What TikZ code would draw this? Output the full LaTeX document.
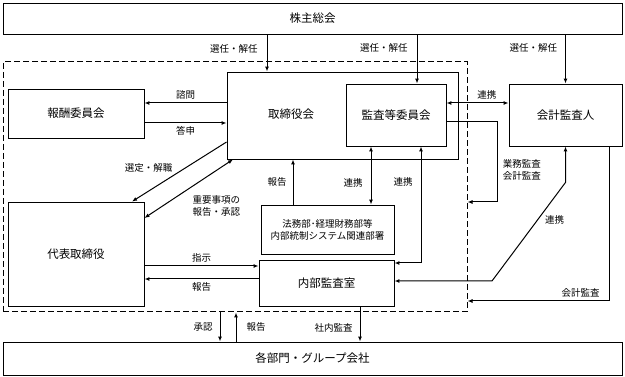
\documentclass[tikz,border=0pt]{standalone}
\usepackage{fontspec}
\setmainfont{Noto Sans CJK JP}
\usetikzlibrary{arrows.meta,calc,positioning}

\begin{document}
\begin{tikzpicture}[x=1pt,y=-1pt,
  >={Latex[length=5pt,width=4pt]},
  box/.style={draw,line width=0.9pt,inner sep=0pt,font=\fontsize{11.5}{13}\selectfont},
  lbl/.style={font=\fontsize{9.5}{12}\selectfont,inner sep=1pt},
  conn/.style={line width=1pt}]
\useasboundingbox (0,0) rectangle (625,377);
% frame of the board
\node[draw,dashed,dash pattern=on 6pt off 3pt,line width=1pt,minimum width=464pt,minimum height=250pt] (group) at (235,187) {};
% boxes
\node[box,minimum width=619pt,minimum height=31pt] (soukai) at (312.5,18.5) {株主総会};
\node[box,minimum width=231pt,minimum height=87pt] (bod) at (342.5,115.5) {};
\node[box,minimum width=100pt,minimum height=62pt] (kansa) at (396,115) {監査等委員会};
\node[font=\fontsize{11.5}{13}\selectfont] (bodname) at (291,114) {取締役会};
\node[box,minimum width=113pt,minimum height=62pt] (kaikei) at (565.5,115) {会計監査人};
\node[box,minimum width=136pt,minimum height=49pt] (housyu) at (76,113.5) {報酬委員会};
\node[box,minimum width=136pt,minimum height=104pt] (daihyo) at (76,254) {代表取締役};
\node[box,minimum width=133pt,minimum height=49pt,align=center,font=\fontsize{9.5}{12}\selectfont] (houmu) at (327.5,229.5) {法務部･経理財務部等\\内部統制システム関連部署};
\node[box,minimum width=135pt,minimum height=46pt] (naibu) at (326.5,283) {内部監査室};
\node[box,minimum width=619pt,minimum height=33pt] (kakubu) at (312.5,358.5) {各部門・グループ会社};
% from the shareholders
\draw[conn,->] (soukai.south -| 267,0) -- node[lbl,pos=0.38,left=8pt] {選任・解任} (bod.north -| 267,0);
\draw[conn,->] (soukai.south -| 417,0) -- node[lbl,pos=0.28,left=8pt] {選任・解任} (kansa.north -| 417,0);
\draw[conn,->] (soukai.south -| kaikei.north) -- node[lbl,pos=0.28,left=7pt] {選任・解任} (kaikei.north);
% board and committees
\draw[conn,->] (bod.west |- 0,103) -- node[lbl,above=2pt] {諮問} (housyu.east |- 0,103);
\draw[conn,->] (housyu.east |- 0,123) -- node[lbl,below=2pt] {答申} (bod.west |- 0,123);
\draw[conn,->] (bod.west |- 0,142) -- node[lbl,pos=0.43,left=12pt] {選定・解職} (daihyo.north -| 132,0);
\draw[conn,<->] (bod.south -| 233,0) -- node[lbl,pos=0.8,right=29pt,align=center] {重要事項の\\報告・承認} (daihyo.east |- 0,218);
\draw[conn,->] (houmu.north -| 293,0) -- node[lbl,left=5pt] {報告} (bod.south -| 293,0);
\draw[conn,<->] (kansa.south -| 371,0) -- node[lbl,pos=0.63,left=7pt] {連携} (houmu.north -| 371,0);
\draw[conn,<->] (naibu.east |- 0,263) -| node[lbl,pos=0.85,left=7pt] {連携} (kansa.south -| 421,0);
\draw[conn,<->] (kansa.east |- 0,103) -- node[lbl,pos=0.65,above=2pt] {連携} (kaikei.west |- 0,103);
\draw[conn,->] (kansa.east |- 0,122) -- ++(51,0) |- node[lbl,pos=0.3,right=4pt,align=left] {業務監査\\会計監査} (group.east |- 0,202);
% auditor
\draw[conn,<->] (kaikei.south) -- ++(0,36) -- node[lbl,pos=0.38,right=6pt] {連携} (492,281) -- (naibu.east |- 0,281);
\draw[conn,->] (kaikei.south -| 609,0) |- node[lbl,pos=0.6,above=2pt] {会計監査} (group.east |- 0,301);
% president and internal audit
\draw[conn,->] (daihyo.east |- 0,266) -- node[lbl,above=2pt] {指示} (naibu.west |- 0,266);
\draw[conn,->] (naibu.west |- 0,279) -- node[lbl,below=2pt] {報告} (daihyo.east |- 0,279);
% departments
\draw[conn,->] (group.south -| 220,0) -- node[lbl,left=6pt] {承認} (kakubu.north -| 220,0);
\draw[conn,->] (kakubu.north -| 236,0) -- node[lbl,right=9pt] {報告} (group.south -| 236,0);
\draw[conn,->] (naibu.south -| 360,0) -- node[lbl,pos=0.6,left=6pt] {社内監査} (kakubu.north -| 360,0);
\end{tikzpicture}
\end{document}
